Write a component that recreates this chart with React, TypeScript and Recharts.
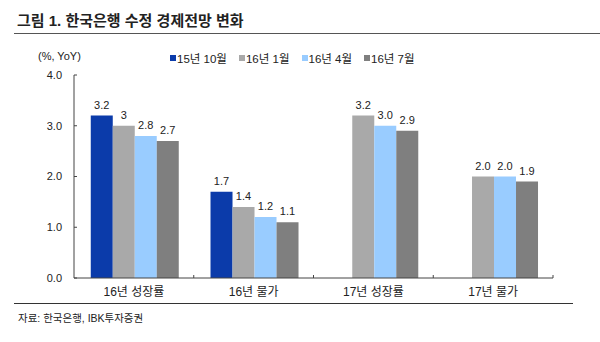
import React from 'react'
import { BarChart, Bar, XAxis, YAxis, LabelList } from 'recharts'

const categories = ['16년 성장률', '16년 물가', '17년 성장률', '17년 물가']
const seriesNames = ['15년 10월', '16년 1월', '16년 4월', '16년 7월']
const seriesColors = ['#0B3BAA', '#A9A9A9', '#99CCFF', '#7F7F7F']
const oct15 = [3.2, 1.7, null, null]
const jan16 = [3.0, 1.4, 3.2, 2.0]
const apr16 = [2.8, 1.2, 3.0, 2.0]
const jul16 = [2.7, 1.1, 2.9, 1.9]
const oct15Labels = ['3.2', '1.7', '', '']
const jan16Labels = ['3', '1.4', '3.2', '2.0']
const apr16Labels = ['2.8', '1.2', '3.0', '2.0']
const jul16Labels = ['2.7', '1.1', '2.9', '1.9']
const yTicks = [0, 1, 2, 3, 4]

const seriesValues = [oct15, jan16, apr16, jul16]
const seriesLabels = [oct15Labels, jan16Labels, apr16Labels, jul16Labels]

const data = categories.map((name, i) => {
  const row: Record<string, any> = { name }
  seriesValues.forEach((vals, s) => {
    row['s' + s] = vals[i]
  })
  return row
})

const FONT = '"Liberation Sans", Arial, "Noto Sans CJK KR", sans-serif'
const KFONT = '"Liberation Sans", "Noto Sans CJK KR", sans-serif'

const CategoryTick = (props: any) => {
  const { x, y, payload } = props
  const off = payload.offset || 0
  return (
    <g>
      <line x1={x + off} x2={x + off} y1={y - 8} y2={y - 11} stroke="#444" />
      <text x={x} y={y + 10} textAnchor="middle" fontSize={12} fill="#222" fontFamily={KFONT}>
        {payload.value}
      </text>
    </g>
  )
}

const App: React.FC = () => {
  return (
    <div style={{ position: 'absolute', left: 0, top: 0, width: 600, height: 342, background: '#fff', fontFamily: KFONT, color: '#222' }}>
      <div style={{ position: 'absolute', left: 17, top: 9, fontSize: 15, fontWeight: 'bold', color: '#222', whiteSpace: 'nowrap' }}>
        그림 1. 한국은행 수정 경제전망 변화
      </div>
      <div style={{ position: 'absolute', left: 14, top: 33, width: 586, height: 1, background: '#555' }} />
      <div style={{ position: 'absolute', left: 38, top: 50, fontSize: 11, fontFamily: FONT, whiteSpace: 'nowrap' }}>(%, YoY)</div>
      <div style={{ position: 'absolute', left: 170, top: 50, display: 'flex', gap: 12, fontSize: 11.5, whiteSpace: 'nowrap' }}>
        {seriesNames.map((n, i) => (
          <div key={n} style={{ display: 'flex', alignItems: 'center' }}>
            <span style={{ display: 'inline-block', width: 6, height: 6, background: seriesColors[i], marginRight: 1 }} />
            <span>{n}</span>
          </div>
        ))}
      </div>
      <div style={{ position: 'absolute', left: 0, top: 0 }}>
        <BarChart
          width={600}
          height={342}
          data={data}
          margin={{ top: 75, right: 47, left: 34, bottom: 34 }}
          barCategoryGap="14%"
          barGap={0}
        >
          <XAxis
            dataKey="name"
            height={30}
            stroke="#444"
            tickLine={false}
            tickSize={8}
            tickMargin={0}
            tick={<CategoryTick />}
            interval={0}
          />
          <YAxis
            width={40}
            domain={[0, 4]}
            ticks={yTicks}
            interval={0}
            stroke="#444"
            tickSize={-3}
            tickMargin={15}
            tickFormatter={(v: number) => v.toFixed(1)}
            tick={{ fontSize: 11, fill: '#222', fontFamily: FONT }}
          />
          {seriesNames.map((n, s) => (
            <Bar key={n} dataKey={'s' + s} name={n} fill={seriesColors[s]} isAnimationActive={false}>
              <LabelList
                dataKey={'s' + s}
                position="top"
                offset={7}
                fontSize={11}
                fill="#222"
                fontFamily={FONT}
                formatter={(v: any) => v}
                content={(p: any) => {
                  const lbl = seriesLabels[s][p.index]
                  if (!lbl) return null
                  return (
                    <text x={p.x + p.width / 2} y={p.y - 7} textAnchor="middle" fontSize={11} fill="#222" fontFamily={FONT}>
                      {lbl}
                    </text>
                  )
                }}
              />
            </Bar>
          ))}
        </BarChart>
      </div>
      <div style={{ position: 'absolute', left: 14, top: 303, width: 559, height: 1, background: '#333' }} />
      <div style={{ position: 'absolute', left: 18, top: 310, fontSize: 10.5, whiteSpace: 'nowrap' }}>자료: 한국은행, IBK투자증권</div>
    </div>
  )
}

export default App
